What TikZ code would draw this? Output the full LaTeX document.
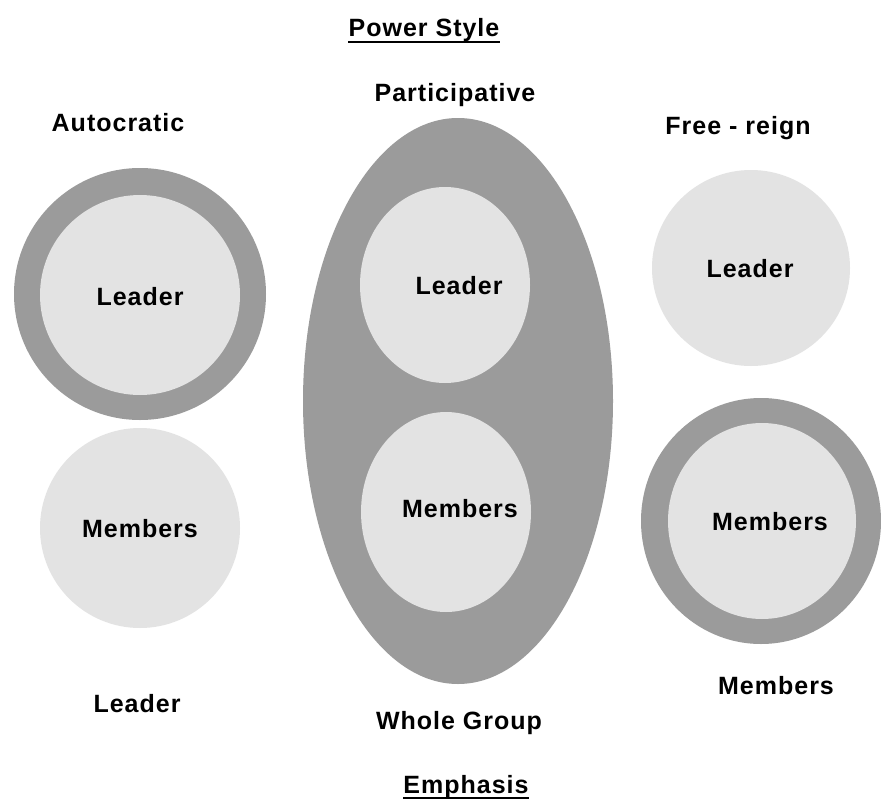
\documentclass[tikz,border=0pt]{standalone}
\usepackage{fontspec}
\setmainfont{Liberation Sans}[LetterSpace=4]
\definecolor{ringgrey}{HTML}{9B9B9B}
\definecolor{discgrey}{HTML}{E3E3E3}
\begin{document}
\begin{tikzpicture}[x=1pt,y=-1pt,
  lbl/.style={inner sep=0pt,anchor=base,font=\fontsize{25}{29}\selectfont\bfseries},
  uline/.style={line width=1.6pt,black}]
\useasboundingbox[fill=white] (0,0) rectangle (881,800);

% Autocratic: ringed leader, plain members
\fill[ringgrey] (140,294) circle[radius=126pt];
\fill[discgrey] (140,295) circle[radius=100pt];
\fill[discgrey] (140,528) circle[radius=100pt];

% Participative: whole group enclosing both
\fill[ringgrey] (458,401) ellipse[x radius=155pt,y radius=283pt];
\fill[discgrey] (445,285) ellipse[x radius=85pt,y radius=98pt];
\fill[discgrey] (446,512) ellipse[x radius=85pt,y radius=100pt];

% Free-reign: plain leader, ringed members
\fill[discgrey] (751,268) ellipse[x radius=99pt,y radius=98pt];
\fill[ringgrey] (761,521) ellipse[x radius=120pt,y radius=123pt];
\fill[discgrey] (762,521) ellipse[x radius=94pt,y radius=98pt];

% headings
\node[lbl] (power) at (424,37) {Power Style};
\draw[uline] ([yshift=-5pt]power.base west) -- ([yshift=-5pt]power.base east);
\node[lbl] (emph) at (466,793) {Emphasis};
\draw[uline] ([yshift=-5pt]emph.base west) -- ([yshift=-5pt]emph.base east);

% style names
\node[lbl] (auto) at (118,131) {Autocratic};
\node[lbl] (part) at (455,102) {Participative};
\node[lbl] (free) at (738,134) {Free - reign};

% circle labels
\node[lbl] (aleader) at (140,305) {Leader};
\node[lbl] (amembers) at (140,537) {Members};
\node[lbl] (pleader) at (459,294) {Leader};
\node[lbl] (pmembers) at (460,517) {Members};
\node[lbl] (fleader) at (750,277) {Leader};
\node[lbl] (fmembers) at (770,530) {Members};

% emphasis labels
\node[lbl] (aemph) at (137,712) {Leader};
\node[lbl] (pemph) at (459,729) {Whole Group};
\node[lbl] (femph) at (776,694) {Members};
\end{tikzpicture}
\end{document}
